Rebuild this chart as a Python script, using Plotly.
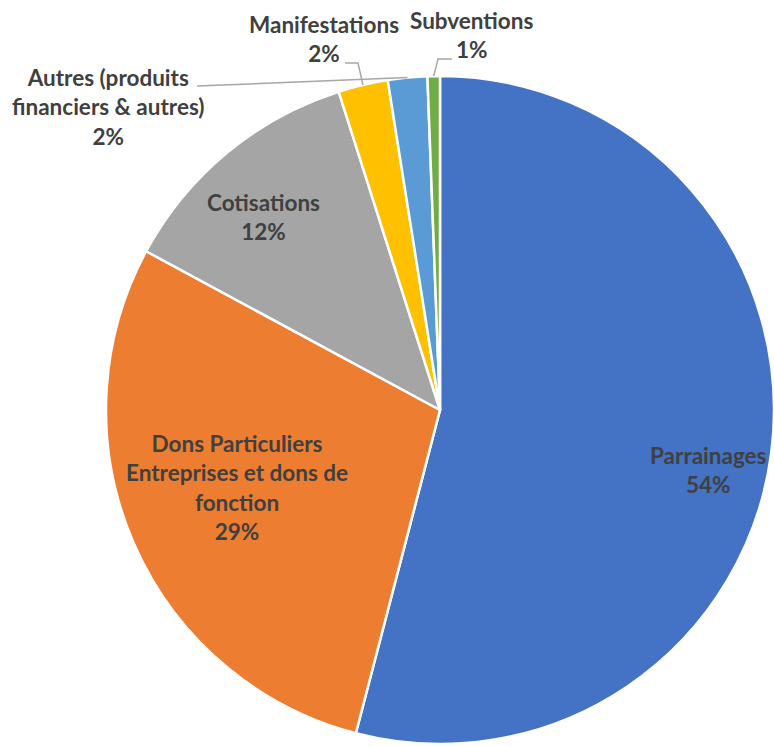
import math
import plotly.graph_objects as go

# ---- data ----
categories = ["Parrainages", "Dons Particuliers Entreprises et dons de fonction", "Cotisations",
              "Manifestations", "Autres (produits financiers & autres)", "Subventions"]
display_labels = ["Parrainages", "Dons Particuliers<br>Entreprises et dons de<br>fonction", "Cotisations",
                  "Manifestations", "Autres (produits<br>financiers & autres)", "Subventions"]
values = [54.0, 28.8, 12.2, 2.4, 1.9, 0.6]
colors = ["#4472C4", "#ED7D31", "#A5A5A5", "#FFC000", "#5B9BD5", "#70AD47"]

# ---- layout geometry (pixels) ----
W, H = 774, 747
px_left, px_right, px_top, px_bottom = 106, 774, 76, 744
cx = (px_left + px_right) / 2
cy = (px_top + px_bottom) / 2
R = min(px_right - px_left, px_bottom - px_top) / 2

# label block centres (pixels) and leader line anchor points
label_pos = [(708, 470), (237, 487), (263, 217), (324, 39), (108, 107), (471, 35)]
leader_start = [None, None, None, (345, 63), (197, 86), (452, 59)]
leader_elbow = [None, None, None, (358, 63), None, (438, 59)]

def px2paper(x, y):
    return x / W, 1 - y / H

total = sum(values)
fig = go.Figure(go.Pie(
    labels=categories, values=values, sort=False, direction="clockwise", rotation=0,
    marker=dict(colors=colors, line=dict(color="white", width=2.5)),
    textinfo="none", hoverinfo="label+percent",
    domain=dict(x=[px_left / W, px_right / W], y=[1 - px_bottom / H, 1 - px_top / H]),
))

annotations = []
shapes = []
cum = 0.0
for i, v in enumerate(values):
    pct = round(v / total * 100)
    x, y = px2paper(*label_pos[i])
    annotations.append(dict(
        x=x, y=y, xref="paper", yref="paper", xanchor="center", yanchor="middle",
        text=f"<b>{display_labels[i]}<br>{pct}%</b>", showarrow=False, align="center",
        font=dict(family="Lato", size=22.5, color="#404040"),
    ))
    mid = (cum + v / 2) / total * 2 * math.pi
    cum += v
    if leader_start[i] is not None:
        ex = cx + R * math.sin(mid)
        ey = cy - R * math.cos(mid)
        pts = [leader_start[i]]
        if leader_elbow[i] is not None:
            pts.append(leader_elbow[i])
        pts.append((ex, ey))
        path = "M " + " L ".join(f"{px2paper(a, b)[0]},{px2paper(a, b)[1]}" for a, b in pts)
        shapes.append(dict(type="path", path=path, xref="paper", yref="paper",
                           line=dict(color="#A6A6A6", width=1.5)))

fig.update_layout(
    width=W, height=H, margin=dict(l=0, r=0, t=0, b=0),
    paper_bgcolor="white", plot_bgcolor="white", showlegend=False,
    annotations=annotations, shapes=shapes,
)
fig.write_html("out.html", config={"displayModeBar": False},
               post_script="document.body.style.margin='0';document.body.style.overflow='hidden';")
